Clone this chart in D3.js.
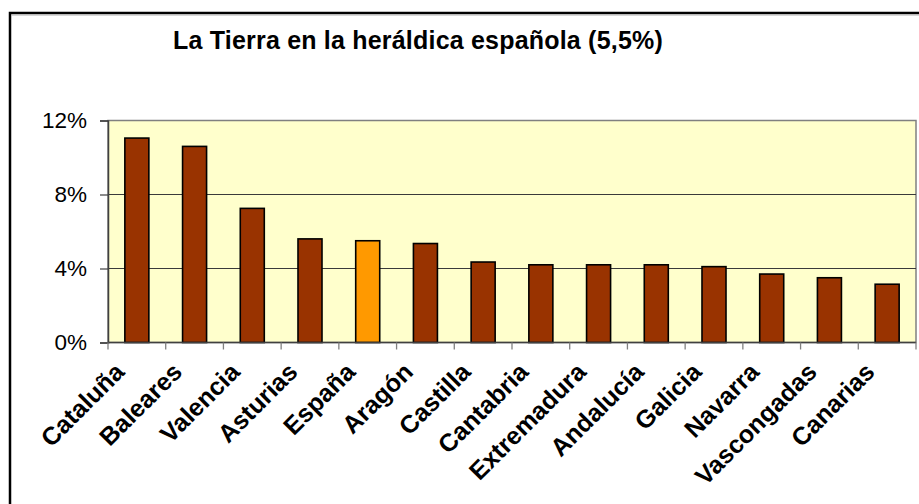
<!DOCTYPE html>
<html>
<head>
<meta charset="utf-8">
<script src="https://cdn.jsdelivr.net/npm/d3@7"></script>
<style>
  html, body { margin: 0; padding: 0; background: #fff; }
  svg { display: block; }
  text { font-family: "Liberation Sans", Arial, sans-serif; fill: #000; }
</style>
</head>
<body>
<svg id="chart" width="919" height="504"></svg>
<script>
// Share of the Earth (tierra) tincture in Spanish heraldry, by region (%)
const categories = ["Cataluña", "Baleares", "Valencia", "Asturias", "España", "Aragón",
  "Castilla", "Cantabria", "Extremadura", "Andalucía", "Galicia", "Navarra",
  "Vascongadas", "Canarias"];
const values = [11.05, 10.6, 7.25, 5.6, 5.5, 5.35, 4.35, 4.2, 4.2, 4.2, 4.1, 3.7, 3.5, 3.15];
const yTicks = [0, 4, 8, 12];
const titleText = "La Tierra en la heráldica española (5,5%)";
const highlight = "España";

const svg = d3.select("#chart");

// outer chart frame (left and top edges visible)
svg.append("rect")
  .attr("x", 10).attr("y", 13)
  .attr("width", 940).attr("height", 520)
  .attr("fill", "#fff")
  .attr("stroke", "#000").attr("stroke-width", 2.5);
svg.append("line")
  .attr("x1", 11.5).attr("x2", 919).attr("y1", 15).attr("y2", 15)
  .attr("stroke", "#b0b0b0").attr("stroke-width", 1);

const plot = { left: 108, right: 916, top: 120.5, bottom: 342.5 };

const x = d3.scaleBand()
  .domain(categories)
  .range([plot.left, plot.right])
  .paddingInner(0.584)
  .paddingOuter(0.292);

const y = d3.scaleLinear()
  .domain([0, 12])
  .range([plot.bottom, plot.top]);

// plot background
svg.append("rect")
  .attr("x", plot.left).attr("y", plot.top)
  .attr("width", plot.right - plot.left).attr("height", plot.bottom - plot.top)
  .attr("fill", "#ffffcc")
  .attr("stroke", "#808080").attr("stroke-width", 1.5);

// horizontal gridlines
svg.append("g")
  .selectAll("line")
  .data(yTicks.filter(t => t > 0 && t < 12))
  .join("line")
  .attr("x1", plot.left).attr("x2", plot.right)
  .attr("y1", d => y(d)).attr("y2", d => y(d))
  .attr("stroke", "#3a3a3a").attr("stroke-width", 1.2);

// y axis
const yAxis = d3.axisLeft(y)
  .tickValues(yTicks)
  .tickFormat(d => d + "%")
  .tickSize(8)
  .tickPadding(13);
const gy = svg.append("g")
  .attr("transform", `translate(${plot.left},0)`)
  .call(yAxis);
gy.select(".domain").attr("stroke", "#404040").attr("stroke-width", 1.5);
gy.selectAll(".tick line").attr("stroke", "#404040").attr("stroke-width", 1.2);
gy.selectAll(".tick text")
  .style("font-family", '"Liberation Sans", Arial, sans-serif')
  .style("font-size", "22.5px")
  .attr("fill", "#000");

// bars
svg.append("g")
  .selectAll("rect")
  .data(categories.map((c, i) => ({ c, v: values[i] })))
  .join("rect")
  .attr("x", d => x(d.c))
  .attr("y", d => y(d.v))
  .attr("width", x.bandwidth())
  .attr("height", d => y(0) - y(d.v))
  .attr("fill", d => d.c === highlight ? "#ff9900" : "#993300")
  .attr("stroke", "#000")
  .attr("stroke-width", 1.6);

// x axis line with ticks between categories
const step = x.step();
const x0 = x.range()[0];
svg.append("line")
  .attr("x1", plot.left).attr("x2", plot.right)
  .attr("y1", plot.bottom).attr("y2", plot.bottom)
  .attr("stroke", "#404040").attr("stroke-width", 1.5);
svg.append("g")
  .selectAll("line")
  .data(d3.range(categories.length + 1))
  .join("line")
  .attr("x1", i => x0 + i * step).attr("x2", i => x0 + i * step)
  .attr("y1", plot.bottom).attr("y2", plot.bottom + 7)
  .attr("stroke", "#808080").attr("stroke-width", 1.3);

// rotated category labels
svg.append("g")
  .selectAll("text")
  .data(categories)
  .join("text")
  .attr("transform", d => `translate(${x(d) + x.bandwidth() / 2 - 11},${plot.bottom + 31}) rotate(-45)`)
  .attr("text-anchor", "end")
  .style("font-size", "25px")
  .style("font-weight", "bold")
  .text(d => d);

// title
svg.append("text")
  .attr("x", 418).attr("y", 49)
  .attr("text-anchor", "middle")
  .style("font-size", "25px")
  .style("font-weight", "bold")
  .style("letter-spacing", "0.2px")
  .text(titleText);
</script>
</body>
</html>
